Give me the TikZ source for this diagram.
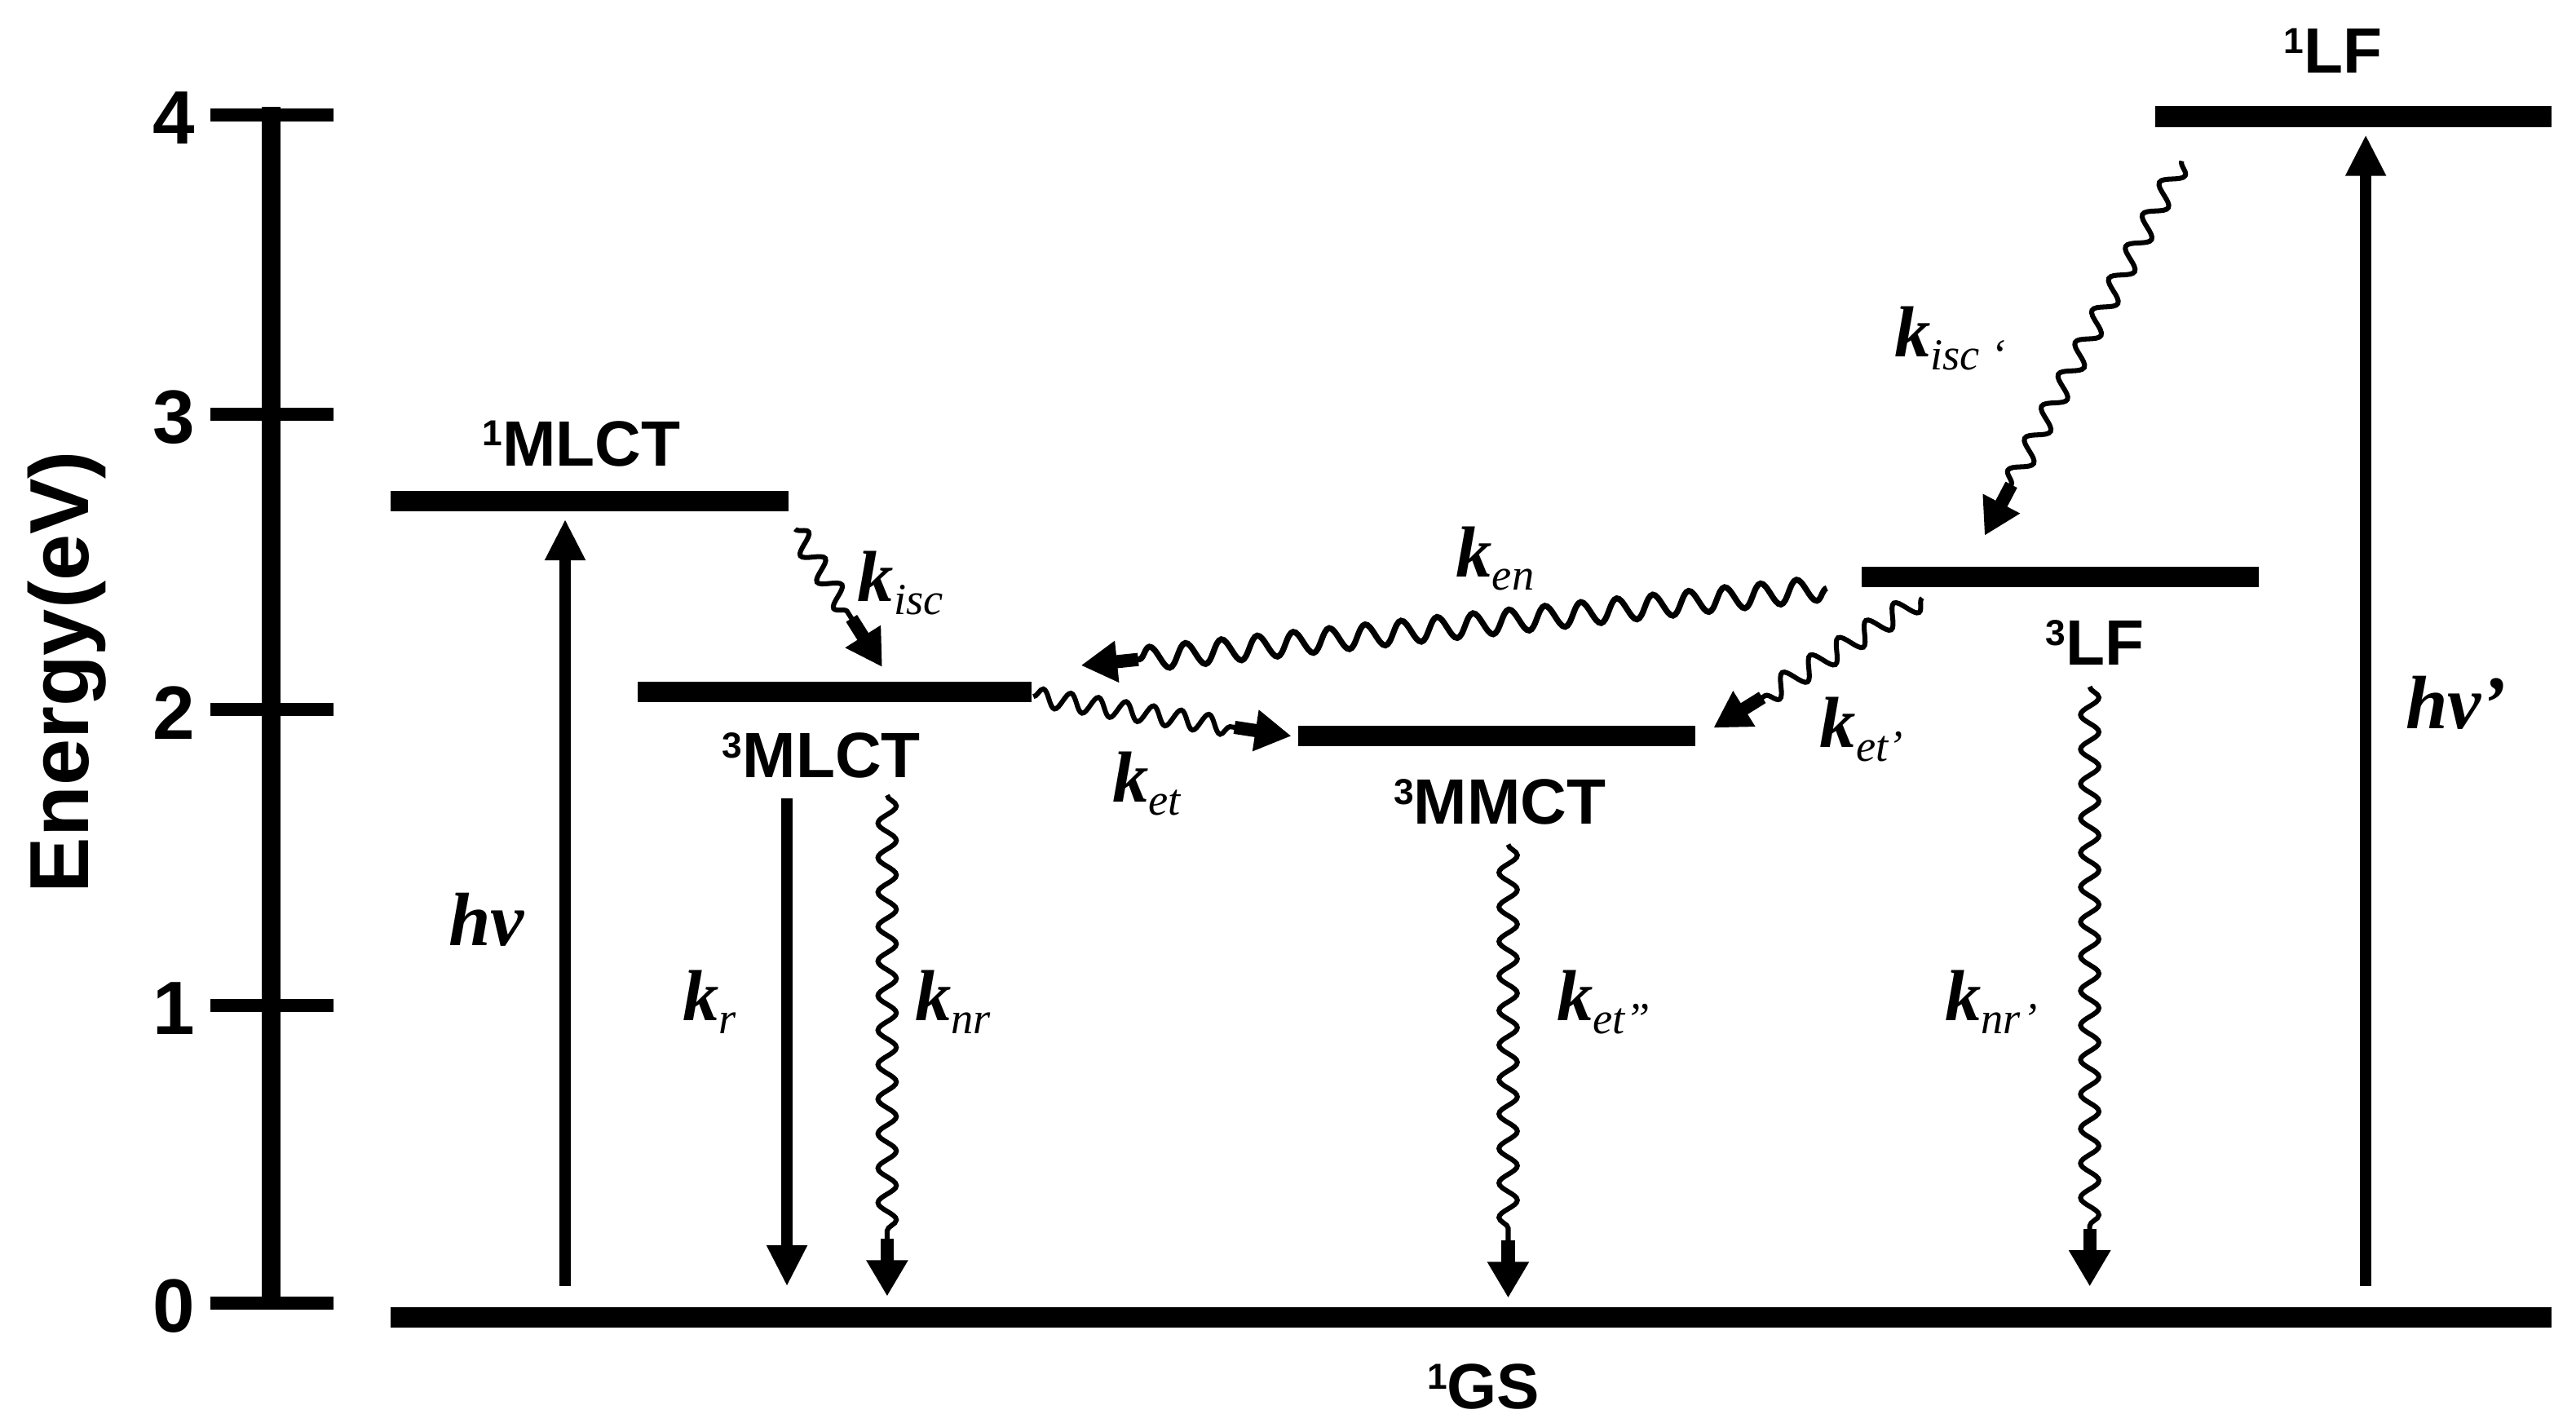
\documentclass[tikz,border=0pt]{standalone}
\usepackage{fontspec}
\setmainfont{Liberation Sans}
\newfontfamily\kserif{Liberation Serif}
\usetikzlibrary{arrows.meta,decorations.pathmorphing,calc}
\newcommand\supnum[1]{\raisebox{12pt}{\fontsize{22}{22}\selectfont #1}}
\newcommand\rate[1]{{\kserif\bfseries\itshape\fontsize{44}{44}\selectfont k}{\kserif\itshape\fontsize{27}{27}\selectfont\raisebox{-8pt}{#1}}}
% wavy connector: #1 = extra wave options, #2 = from, #3 = to
\newcommand\wavyarrow[3][]{%
  \draw[wave,#1] (#2) -- ($(#3)!31pt!(#2)$);
  \draw[wtip] ($(#3)!35pt!(#2)$) -- (#3);
}
\begin{document}
\begin{tikzpicture}[x=1pt,y=-1pt,
  bar/.style={fill=black,inner sep=0pt,minimum height=12.5pt},
  lvltext/.style={font=\bfseries\fontsize{39}{40}\selectfont,inner sep=0pt},
  ticklab/.style={font=\bfseries\fontsize{46}{46}\selectfont,inner sep=0pt,anchor=east},
  ratetext/.style={font=\fontsize{38}{40}\selectfont,inner sep=0pt},
  axline/.style={line width=11pt},
  axtick/.style={line width=8pt},
  sarrow/.style={line width=7pt,-{Triangle[length=25pt,width=23pt]}},
  wave/.style={line width=3pt,decorate,
     decoration={snake,segment length=21pt,amplitude=5.6pt,post length=1pt}},
  wtip/.style={line width=8pt,-{Triangle[length=22pt,width=24pt]}},
]
\useasboundingbox (0,0) rectangle (1568,866);

% axis
\coordinate (axtop) at (165,65);
\coordinate (axbot) at (165,797);
\draw[axline] (axtop) -- (axbot);
\foreach \yy/\lab in {70/4,252/3,432/2,612/1,793/0}{
  \coordinate (tl\lab) at (128,\yy);
  \coordinate (tr\lab) at (203,\yy);
  \draw[axtick] (tl\lab) -- (tr\lab);
  \node[ticklab] (tn\lab) at (119,\yy+2) {\lab};
}
\node[rotate=90,font=\bfseries\fontsize{51}{51}\selectfont,inner sep=0pt] (elab) at (41,409) {Energy(eV)};

% levels
\node[bar,minimum width=1315pt] (gs) at (895.5,802) {};
\node[bar,minimum width=242pt] (mlct1) at (359,305) {};
\node[bar,minimum width=240pt] (mlct3) at (508,421) {};
\node[bar,minimum width=242pt] (mmct3) at (911,448) {};
\node[bar,minimum width=242pt] (lf3) at (1254,351) {};
\node[bar,minimum width=241pt] (lf1) at (1432.5,71) {};

\node[lvltext] (gslab) at (903,844) {\supnum{1}GS};
\node[lvltext] (mlct1lab) at (354,270) {\supnum{1}MLCT};
\node[lvltext] (mlct3lab) at (500,460) {\supnum{3}MLCT};
\node[lvltext] (mmct3lab) at (913,488) {\supnum{3}MMCT};
\node[lvltext] (lf3lab) at (1275,391) {\supnum{3}LF};
\node[lvltext] (lf1lab) at (1420,31) {\supnum{1}LF};

% endpoints
\coordinate (hvA) at (344,783);
\coordinate (hvB) at (344,316);
\coordinate (hvpA) at (1440,783);
\coordinate (hvpB) at (1440,82);
\coordinate (krA) at (479,486);
\coordinate (krB) at (479,783);
\coordinate (knrA) at (540,484);
\coordinate (knrB) at (540,789);
\coordinate (et2A) at (918,514);
\coordinate (et2B) at (918,790);
\coordinate (nrpA) at (1272,418);
\coordinate (nrpB) at (1272,783);
\coordinate (iscA) at (484,322);
\coordinate (iscB) at (537,406);
\coordinate (etA) at (629,424);
\coordinate (etB) at (786,448);
\coordinate (enA) at (1112,358);
\coordinate (enB) at (658,405);
\coordinate (etpA) at (1170,364);
\coordinate (etpB) at (1043,443);
\coordinate (iscpA) at (1328,98);
\coordinate (iscpB) at (1208,326);

\draw[sarrow] (hvA) -- (hvB);
\draw[sarrow] (hvpA) -- (hvpB);
\draw[sarrow] (krA) -- (krB);
\wavyarrow{knrA}{knrB}
\wavyarrow{et2A}{et2B}
\wavyarrow{nrpA}{nrpB}
\wavyarrow[decoration={segment length=19pt,amplitude=6pt}]{iscA}{iscB}
\wavyarrow[decoration={segment length=17pt,amplitude=5.5pt}]{etA}{etB}
\wavyarrow[line width=3.6pt,decoration={segment length=22pt,amplitude=7pt}]{enA}{enB}
\wavyarrow[decoration={segment length=20pt,amplitude=6.5pt}]{etpA}{etpB}
\wavyarrow[decoration={segment length=22pt,amplitude=6pt}]{iscpA}{iscpB}

% labels
\node[ratetext] (hvlab) at (296,560) {{\kserif\bfseries\itshape\fontsize{46}{46}\selectfont hν}};
\node[ratetext] (hvplab) at (1495,428) {{\kserif\bfseries\itshape\fontsize{46}{46}\selectfont hν’}};
\node[ratetext] (krlab) at (432,610) {\rate{r}};
\node[ratetext] (knrlab) at (580,610) {\rate{nr}};
\node[ratetext] (isclab) at (548,355) {\rate{isc}};
\node[ratetext] (etlab) at (698,477) {\rate{et}};
\node[ratetext] (enlab) at (910,340) {\rate{en}};
\node[ratetext] (etplab) at (1133,444) {\rate{et’}};
\node[ratetext] (iscplab) at (1187,206) {\rate{isc ‘}};
\node[ratetext] (et2lab) at (976,610) {\rate{et”}};
\node[ratetext] (nrplab) at (1212,610) {\rate{nr’}};
\end{tikzpicture}
\end{document}
